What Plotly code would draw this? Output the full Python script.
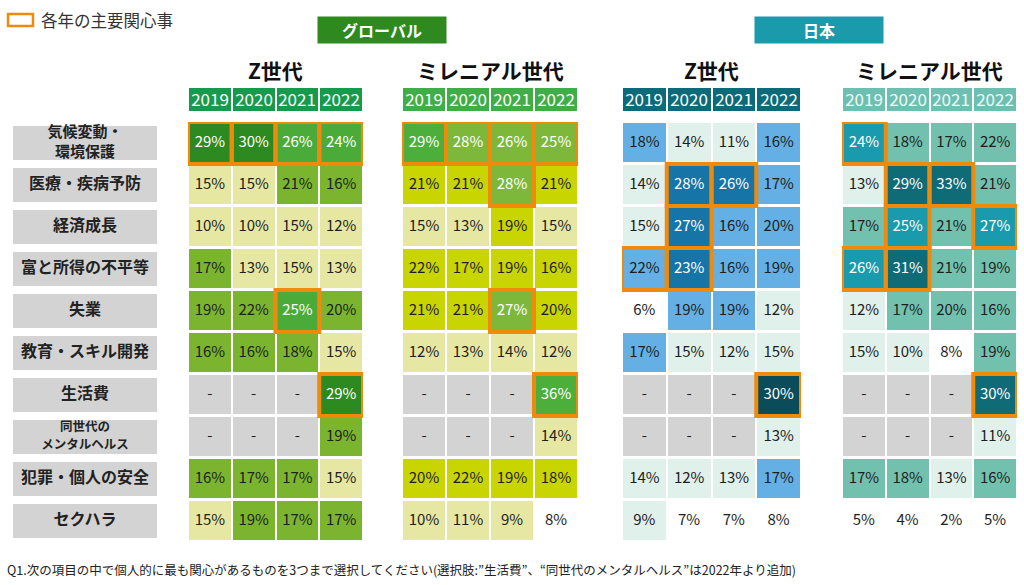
import plotly.graph_objects as go

# ---------------- data ----------------
categories = ["気候変動・<br>環境保護", "医療・疾病予防", "経済成長", "富と所得の不平等", "失業",
              "教育・スキル開発", "生活費", "同世代の<br>メンタルヘルス", "犯罪・個人の安全", "セクハラ"]
years = ["2019", "2020", "2021", "2022"]
panel_titles = ["Z世代", "ミレニアル世代", "Z世代", "ミレニアル世代"]
group_titles = ["グローバル", "日本"]

global_genz = [[29, 30, 26, 24], [15, 15, 21, 16], [10, 10, 15, 12], [17, 13, 15, 13], [19, 22, 25, 20],
               [16, 16, 18, 15], [None, None, None, 29], [None, None, None, 19], [16, 17, 17, 15], [15, 19, 17, 17]]
global_mill = [[29, 28, 26, 25], [21, 21, 28, 21], [15, 13, 19, 15], [22, 17, 19, 16], [21, 21, 27, 20],
               [12, 13, 14, 12], [None, None, None, 36], [None, None, None, 14], [20, 22, 19, 18], [10, 11, 9, 8]]
japan_genz = [[18, 14, 11, 16], [14, 28, 26, 17], [15, 27, 16, 20], [22, 23, 16, 19], [6, 19, 19, 12],
              [17, 15, 12, 15], [None, None, None, 30], [None, None, None, 13], [14, 12, 13, 17], [9, 7, 7, 8]]
japan_mill = [[24, 18, 17, 22], [13, 29, 33, 21], [17, 25, 21, 27], [26, 31, 21, 19], [12, 17, 20, 16],
              [15, 10, 8, 19], [None, None, None, 30], [None, None, None, 11], [17, 18, 13, 16], [5, 4, 2, 5]]

# top concerns of each year (row, column)
top_global_genz = [(0, 0), (0, 1), (0, 2), (0, 3), (4, 2), (6, 3)]
top_global_mill = [(0, 0), (0, 1), (0, 2), (0, 3), (1, 2), (4, 2), (6, 3)]
top_japan_genz = [(1, 1), (1, 2), (2, 1), (3, 0), (3, 1), (6, 3)]
top_japan_mill = [(0, 0), (1, 1), (1, 2), (2, 1), (2, 3), (3, 0), (3, 1), (6, 3)]

panels_values = [global_genz, global_mill, japan_genz, japan_mill]
panels_top = [top_global_genz, top_global_mill, top_japan_genz, top_japan_mill]

# ---------------- styles ----------------
W, H = 1024, 585
ORANGE = "#ef8a0c"
GRAY = "#d3d3d3"
FONT = "Noto Sans CJK JP"
# white, pale, light, medium, dark, missing
panel_colors = [
    ["#ffffff", "#e7e7a4", "#7bb52f", "#4bab38", "#2d8a20", GRAY],
    ["#ffffff", "#e7e7a4", "#c9d500", "#7eb83b", "#4caf3c", GRAY],
    ["#ffffff", "#e0f0ea", "#64b0e4", "#1774a6", "#0b4c5a", GRAY],
    ["#ffffff", "#e0f0ea", "#72c1ae", "#199aad", "#0f6c76", GRAY],
]
header_colors = ["#189a4d", "#41ad48", "#0d6a78", "#6dc0b1"]
header_text = ["white", "white", "white", "#f0faf7"]
group_colors = ["#2e8a1e", "#1a9aaa"]
panel_px = [(188, 363), (402, 578), (622, 801), (842, 1017)]
label_px = (13, 157)
rows_px = (122, 542)
header_px = (88, 111)


def level(v):
    if v is None:
        return 5
    if v < 9:
        return 0
    if v <= 15:
        return 1
    if v <= 22:
        return 2
    if v <= 28:
        return 3
    return 4


def discrete_scale(colors):
    n = len(colors)
    sc = []
    for i, c in enumerate(colors):
        sc.append([i / n, c])
        sc.append([(i + 1) / n, c])
    return sc


def px_x(a, b):
    return [a / W, b / W]


def px_y(top, bottom):
    return [1 - bottom / H, 1 - top / H]


fig = go.Figure()
nrows = len(categories)
ncols = len(years)
row_idx = list(range(nrows))
col_idx = list(range(ncols))
row_pitch_px = (rows_px[1] - rows_px[0]) / nrows

for p, vals in enumerate(panels_values):
    xa = "x" if p == 0 else f"x{p + 1}"
    z = [[level(v) for v in row] for row in vals]
    fig.add_trace(go.Heatmap(
        z=z, x=col_idx, y=row_idx, xaxis=xa, yaxis="y",
        colorscale=discrete_scale(panel_colors[p]), zmin=-0.5, zmax=5.5,
        showscale=False, xgap=2, ygap=3, hoverinfo="skip"))
    # header
    fig.add_trace(go.Heatmap(
        z=[[0] * ncols], x=col_idx, y=[0], xaxis=xa, yaxis="y2",
        colorscale=[[0, header_colors[p]], [1, header_colors[p]]], zmin=0, zmax=1,
        showscale=False, xgap=2, text=[years], texttemplate="%{text}",
        textfont=dict(color=header_text[p], size=17, family=FONT), hoverinfo="skip"))
    # cell texts
    tx, ty, tt, tc = [], [], [], []
    for r in range(nrows):
        for c in range(ncols):
            v = vals[r][c]
            lv = level(v)
            tx.append(c)
            ty.append(r)
            tt.append("-" if v is None else f"{v}%")
            tc.append("white" if lv in (3, 4) else "#1e1e1e")
    fig.add_trace(go.Scatter(
        x=tx, y=ty, text=tt, mode="text", xaxis=xa, yaxis="y",
        textfont=dict(color=tc, size=15, family=FONT), hoverinfo="skip", showlegend=False))
    # highlights
    for (r, c) in panels_top[p]:
        fig.add_shape(type="rect", xref=xa, yref="y", x0=c - 0.5, x1=c + 0.5, y0=r - 0.5, y1=r + 0.5,
                      line=dict(color=ORANGE, width=4), fillcolor="rgba(0,0,0,0)", layer="above")
    # panel title
    fig.add_annotation(text=f"<b>{panel_titles[p]}</b>", xref=f"{xa} domain", x=0.5, yref="paper",
                       y=1 - 70 / H, xanchor="center", yanchor="middle", showarrow=False,
                       font=dict(size=21, color="#111", family=FONT))

# row labels
fig.add_trace(go.Heatmap(
    z=[[0] for _ in categories], x=[0], y=row_idx, xaxis="x5", yaxis="y",
    colorscale=[[0, GRAY], [1, GRAY]], zmin=0, zmax=1, showscale=False, ygap=8, hoverinfo="skip"))
lx, ly, lt, ls = [], [], [], []
for r, cat in enumerate(categories):
    if "メンタル" in cat:
        size = 12.5
        lines = cat.split("<br>")
        step = 18.5 / row_pitch_px
        for i, line in enumerate(lines):
            lx.append(0)
            ly.append(r + (i - (len(lines) - 1) / 2) * step)
            lt.append(f"<b>{line}</b>")
            ls.append(size)
    else:
        lx.append(0)
        ly.append(r)
        lt.append(f"<b>{cat}</b>")
        ls.append(15 if "<br>" in cat else 16)
fig.add_trace(go.Scatter(
    x=lx, y=ly, text=lt, mode="text", xaxis="x5", yaxis="y",
    textfont=dict(color="#222", size=ls, family=FONT), hoverinfo="skip", showlegend=False))

layout = dict(
    width=W, height=H, margin=dict(l=0, r=0, t=0, b=0),
    plot_bgcolor="white", paper_bgcolor="white", showlegend=False,
    yaxis=dict(domain=px_y(*rows_px), range=[nrows - 0.5, -0.5], visible=False, fixedrange=True),
    yaxis2=dict(domain=px_y(*header_px), range=[0.5, -0.5], visible=False, anchor="x"),
)
for p in range(4):
    key = "xaxis" if p == 0 else f"xaxis{p + 1}"
    layout[key] = dict(domain=px_x(*panel_px[p]), range=[-0.5, ncols - 0.5], visible=False, anchor="y")
layout["xaxis5"] = dict(domain=px_x(*label_px), range=[-0.5, 0.5], visible=False, anchor="y")
fig.update_layout(**layout)

# group headers
for g, (title, cx) in enumerate(zip(group_titles, [382, 819])):
    fig.add_annotation(text=f"<b>{title}</b>", xref="paper", yref="paper", x=cx / W, y=1 - 30 / H,
                       xanchor="center", yanchor="middle", showarrow=False, width=126, height=24,
                       bgcolor=group_colors[g], font=dict(color="white", size=16, family=FONT))

# legend
fig.add_shape(type="rect", xref="paper", yref="paper", x0=8 / W, x1=33 / W, y0=1 - 26 / H, y1=1 - 14 / H,
              line=dict(color=ORANGE, width=2.5))
fig.add_annotation(text="各年の主要関心事", xref="paper", yref="paper", x=39 / W, y=1 - 20 / H,
                   xanchor="left", yanchor="middle", showarrow=False,
                   font=dict(size=16.5, color="#333", family=FONT))

# footnote
fig.add_annotation(text="Q1.次の項目の中で個人的に最も関心があるものを3つまで選択してください(選択肢:”生活費”、“同世代のメンタルヘルス”は2022年より追加)",
                   xref="paper", yref="paper", x=5 / W, y=1 - 569 / H, xanchor="left", yanchor="middle",
                   showarrow=False, font=dict(size=12.5, color="#222", family=FONT))

fig.write_html("out.html", config={"displayModeBar": False},
               post_script="document.body.style.margin='0';")
